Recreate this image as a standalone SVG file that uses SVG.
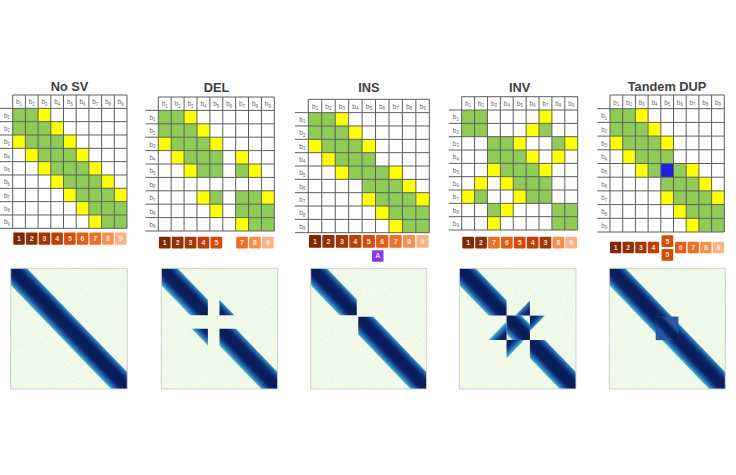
<svg xmlns="http://www.w3.org/2000/svg" xmlns:xlink="http://www.w3.org/1999/xlink" width="736" height="475" viewBox="0 0 736 475">
<defs>
<style>
.t{font-family:"Liberation Sans",Arial,sans-serif;font-weight:bold;font-size:12.8px;fill:#404040;text-anchor:middle}
.g{fill:#8fcb57}
.y{fill:#ffff00}
.bl{fill:#2020e0}
.gl{fill:none;stroke:#5e5e5e;stroke-width:1}
.lb{font-family:"Liberation Sans",Arial,sans-serif;font-size:5px;fill:#6a6a6a;text-anchor:middle}
.sub{font-size:3.4px}
.n{font-family:"Liberation Sans",Arial,sans-serif;font-weight:bold;font-size:7px;fill:#ffffff;fill-opacity:.85;text-anchor:middle}
.c1{fill:#7f2704}.c2{fill:#8f2f05}.c3{fill:#a33604}.c4{fill:#bd3f05}.c5{fill:#d44b0a}
.c6{fill:#e35d12}.c7{fill:#ef7024}.c8{fill:#f78f4e}.c9{fill:#fbb285}
.ca{fill:#8338ec}
.hbg{fill:#e0f3d6}
.hbd{fill:none;stroke:#cfcfcf;stroke-width:1}
</style>
<linearGradient id="bandG" gradientUnits="userSpaceOnUse" x1="43" y1="57" x2="57" y2="43">
<stop offset="0" stop-color="#5fbfc2"/>
<stop offset="0.08" stop-color="#2c8abf"/>
<stop offset="0.2" stop-color="#1d4b9b"/>
<stop offset="0.32" stop-color="#0b2366"/>
<stop offset="0.5" stop-color="#081d58"/>
<stop offset="0.72" stop-color="#0a2162"/>
<stop offset="0.86" stop-color="#1b4997"/>
<stop offset="0.95" stop-color="#2a7ab5"/>
<stop offset="1" stop-color="#4aaec6"/>
</linearGradient>
<linearGradient id="coreG" gradientUnits="userSpaceOnUse" x1="45" y1="55" x2="55" y2="45">
<stop offset="0" stop-color="#2b58a6" stop-opacity="0"/>
<stop offset="0.3" stop-color="#0c2466"/>
<stop offset="0.5" stop-color="#081d58"/>
<stop offset="0.7" stop-color="#0c2466"/>
<stop offset="1" stop-color="#2b58a6" stop-opacity="0"/>
</linearGradient>
<polygon id="bandP" points="-50,-50 -36,-50 150,136 150,150 136,150 -50,-36" fill="url(#bandG)"/>
<filter id="nz" x="0" y="0" width="1" height="1">
<feTurbulence type="fractalNoise" baseFrequency="0.9" numOctaves="2" seed="4" result="t"/>
<feColorMatrix in="t" type="matrix" values="0.3 0 0 0 0.72  0.12 0 0 0 0.89  0 0.5 0 0 0.56  0 0 0 0 1"/>
</filter>
<clipPath id="sq"><rect x="0" y="0" width="100" height="100"/></clipPath>
<clipPath id="dupS"><rect x="40" y="40" width="19.6" height="19.5"/></clipPath>
<clipPath id="delD"><rect x="0" y="0" width="40" height="39"/><rect x="50" y="50" width="50" height="50"/></clipPath>
<clipPath id="delUR"><rect x="50" y="0" width="50" height="39"/></clipPath>
<clipPath id="delLL"><rect x="0" y="50" width="40" height="50"/></clipPath>
<clipPath id="insD"><rect x="0" y="0" width="39.7" height="38.8"/><rect x="41" y="40.2" width="59" height="59.8"/></clipPath>
<clipPath id="invD"><rect x="0" y="0" width="40.5" height="39.2"/><rect x="40.5" y="39.2" width="20" height="20.2"/><rect x="60.5" y="59.4" width="39.5" height="40.6"/></clipPath>
<clipPath id="invX"><rect x="40.5" y="0" width="20" height="39.2"/><rect x="40.5" y="59.4" width="20" height="40.6"/></clipPath>
<clipPath id="invY"><rect x="0" y="39.2" width="40.5" height="20.2"/><rect x="60.5" y="39.2" width="39.5" height="20.2"/></clipPath>
<path id="grid" class="gl" vector-effect="non-scaling-stroke" d="M10 0H100M0 10H100M0 20H100M0 30H100M0 40H100M0 50H100M0 60H100M0 70H100M0 80H100M0 90H100M0 100H100M10 0V100M20 0V100M30 0V100M40 0V100M50 0V100M60 0V100M70 0V100M80 0V100M90 0V100M100 0V100"/>
<g id="lbls" class="lb">
<text x="15" y="7">b<tspan class="sub" dy="1">1</tspan></text>
<text x="25" y="7">b<tspan class="sub" dy="1">2</tspan></text>
<text x="35" y="7">b<tspan class="sub" dy="1">3</tspan></text>
<text x="45" y="7">b<tspan class="sub" dy="1">4</tspan></text>
<text x="55" y="7">b<tspan class="sub" dy="1">5</tspan></text>
<text x="65" y="7">b<tspan class="sub" dy="1">6</tspan></text>
<text x="75" y="7">b<tspan class="sub" dy="1">7</tspan></text>
<text x="85" y="7">b<tspan class="sub" dy="1">8</tspan></text>
<text x="95" y="7">b<tspan class="sub" dy="1">9</tspan></text>
<text x="5.5" y="17">b<tspan class="sub" dy="1">1</tspan></text>
<text x="5.5" y="27">b<tspan class="sub" dy="1">2</tspan></text>
<text x="5.5" y="37">b<tspan class="sub" dy="1">3</tspan></text>
<text x="5.5" y="47">b<tspan class="sub" dy="1">4</tspan></text>
<text x="5.5" y="57">b<tspan class="sub" dy="1">5</tspan></text>
<text x="5.5" y="67">b<tspan class="sub" dy="1">6</tspan></text>
<text x="5.5" y="77">b<tspan class="sub" dy="1">7</tspan></text>
<text x="5.5" y="87">b<tspan class="sub" dy="1">8</tspan></text>
<text x="5.5" y="97">b<tspan class="sub" dy="1">9</tspan></text>
</g>
<g id="top3">
<rect class="g" x="10" y="10" width="20" height="10"/><rect class="y" x="30" y="10" width="10" height="10"/>
<rect class="g" x="10" y="20" width="30" height="10"/><rect class="y" x="40" y="20" width="10" height="10"/>
<rect class="y" x="10" y="30" width="10" height="10"/><rect class="g" x="20" y="30" width="30" height="10"/><rect class="y" x="50" y="30" width="10" height="10"/>
</g>
</defs>

<rect width="736" height="475" fill="#ffffff"/>

<!-- Panel 1: No SV -->
<g id="nosv">
<text class="t" x="69.5" y="90.5">No SV</text>
<g transform="translate(0,95) scale(1.27,1.333)">
<use href="#top3"/>
<rect class="y" x="20" y="40" width="10" height="10"/><rect class="g" x="30" y="40" width="30" height="10"/><rect class="y" x="60" y="40" width="10" height="10"/>
<rect class="y" x="30" y="50" width="10" height="10"/><rect class="g" x="40" y="50" width="30" height="10"/><rect class="y" x="70" y="50" width="10" height="10"/>
<rect class="y" x="40" y="60" width="10" height="10"/><rect class="g" x="50" y="60" width="30" height="10"/><rect class="y" x="80" y="60" width="10" height="10"/>
<rect class="y" x="50" y="70" width="10" height="10"/><rect class="g" x="60" y="70" width="30" height="10"/><rect class="y" x="90" y="70" width="10" height="10"/>
<rect class="y" x="60" y="80" width="10" height="10"/><rect class="g" x="70" y="80" width="30" height="10"/>
<rect class="y" x="70" y="90" width="10" height="10"/><rect class="g" x="80" y="90" width="20" height="10"/>
<use href="#grid"/>
<use href="#lbls"/>
</g>
<rect class="c1" x="13.3" y="232.5" width="11.5" height="12.3" rx="1"/><text class="n" x="19.05" y="241.2">1</text>
<rect class="c2" x="26" y="232.5" width="11.5" height="12.3" rx="1"/><text class="n" x="31.75" y="241.2">2</text>
<rect class="c3" x="38.7" y="232.5" width="11.5" height="12.3" rx="1"/><text class="n" x="44.45" y="241.2">3</text>
<rect class="c4" x="51.4" y="232.5" width="11.5" height="12.3" rx="1"/><text class="n" x="57.15" y="241.2">4</text>
<rect class="c5" x="64.1" y="232.5" width="11.5" height="12.3" rx="1"/><text class="n" x="69.85" y="241.2">5</text>
<rect class="c6" x="76.8" y="232.5" width="11.5" height="12.3" rx="1"/><text class="n" x="82.55" y="241.2">6</text>
<rect class="c7" x="89.5" y="232.5" width="11.5" height="12.3" rx="1"/><text class="n" x="95.25" y="241.2">7</text>
<rect class="c8" x="102.2" y="232.5" width="11.5" height="12.3" rx="1"/><text class="n" x="107.95" y="241.2">8</text>
<rect class="c9" x="114.9" y="232.5" width="11.5" height="12.3" rx="1"/><text class="n" x="120.65" y="241.2">9</text>
</g>

<!-- Panel 2: DEL -->
<g id="del">
<text class="t" x="216.5" y="91.5">DEL</text>
<g transform="translate(145.4,97) scale(1.289,1.34)">
<use href="#top3"/>
<rect class="y" x="20" y="40" width="10" height="10"/><rect class="g" x="30" y="40" width="30" height="10"/><rect class="y" x="70" y="40" width="10" height="10"/>
<rect class="y" x="30" y="50" width="10" height="10"/><rect class="g" x="40" y="50" width="20" height="10"/><rect class="g" x="70" y="50" width="10" height="10"/><rect class="y" x="80" y="50" width="10" height="10"/>
<rect class="y" x="40" y="70" width="10" height="10"/><rect class="g" x="50" y="70" width="10" height="10"/><rect class="g" x="70" y="70" width="20" height="10"/><rect class="y" x="90" y="70" width="10" height="10"/>
<rect class="y" x="50" y="80" width="10" height="10"/><rect class="g" x="70" y="80" width="30" height="10"/>
<rect class="y" x="70" y="90" width="10" height="10"/><rect class="g" x="80" y="90" width="20" height="10"/>
<use href="#grid"/>
<use href="#lbls"/>
</g>
<rect class="c1" x="158.9" y="236.7" width="11.7" height="11.7" rx="1"/><text class="n" x="164.75" y="245.05">1</text>
<rect class="c2" x="171.8" y="236.7" width="11.7" height="11.7" rx="1"/><text class="n" x="177.65" y="245.05">2</text>
<rect class="c3" x="184.7" y="236.7" width="11.7" height="11.7" rx="1"/><text class="n" x="190.55" y="245.05">3</text>
<rect class="c4" x="197.6" y="236.7" width="11.7" height="11.7" rx="1"/><text class="n" x="203.45" y="245.05">4</text>
<rect class="c5" x="210.5" y="236.7" width="11.7" height="11.7" rx="1"/><text class="n" x="216.35" y="245.05">5</text>
<rect class="c7" x="236.2" y="236.7" width="11.7" height="11.7" rx="1"/><text class="n" x="242.05" y="245.05">7</text>
<rect class="c8" x="249.1" y="236.7" width="11.7" height="11.7" rx="1"/><text class="n" x="254.95" y="245.05">8</text>
<rect class="c9" x="262" y="236.7" width="11.7" height="11.7" rx="1"/><text class="n" x="267.85" y="245.05">9</text>
</g>

<!-- Panel 3: INS -->
<g id="ins">
<text class="t" x="368.8" y="92">INS</text>
<g transform="translate(294.9,99.3) scale(1.344,1.334)">
<use href="#top3"/>
<rect class="y" x="20" y="40" width="10" height="10"/><rect class="g" x="30" y="40" width="30" height="10"/>
<rect class="y" x="30" y="50" width="10" height="10"/><rect class="g" x="40" y="50" width="30" height="10"/><rect class="y" x="70" y="50" width="10" height="10"/>
<rect class="g" x="50" y="60" width="30" height="10"/><rect class="y" x="80" y="60" width="10" height="10"/>
<rect class="y" x="50" y="70" width="10" height="10"/><rect class="g" x="60" y="70" width="30" height="10"/><rect class="y" x="90" y="70" width="10" height="10"/>
<rect class="y" x="60" y="80" width="10" height="10"/><rect class="g" x="70" y="80" width="30" height="10"/>
<rect class="y" x="70" y="90" width="10" height="10"/><rect class="g" x="80" y="90" width="20" height="10"/>
<use href="#grid"/>
<use href="#lbls"/>
</g>
<rect class="c1" x="308.9" y="235" width="12.2" height="12.7" rx="1"/><text class="n" x="315" y="243.85">1</text>
<rect class="c2" x="322.3" y="235" width="12.2" height="12.7" rx="1"/><text class="n" x="328.4" y="243.85">2</text>
<rect class="c3" x="335.8" y="235" width="12.2" height="12.7" rx="1"/><text class="n" x="341.9" y="243.85">3</text>
<rect class="c4" x="349.2" y="235" width="12.2" height="12.7" rx="1"/><text class="n" x="355.3" y="243.85">4</text>
<rect class="c5" x="362.7" y="235" width="12.2" height="12.7" rx="1"/><text class="n" x="368.8" y="243.85">5</text>
<rect class="c6" x="376.1" y="235" width="12.2" height="12.7" rx="1"/><text class="n" x="382.2" y="243.85">6</text>
<rect class="c7" x="389.5" y="235" width="12.2" height="12.7" rx="1"/><text class="n" x="395.6" y="243.85">7</text>
<rect class="c8" x="403" y="235" width="12.2" height="12.7" rx="1"/><text class="n" x="409.1" y="243.85">8</text>
<rect class="c9" x="416.4" y="235" width="12.2" height="12.7" rx="1"/><text class="n" x="422.5" y="243.85">9</text>
<rect class="ca" x="372" y="250.2" width="11.5" height="11.5" rx="1"/><text class="n" x="377.75" y="258.45">A</text>
</g>

<!-- Panel 4: INV -->
<g id="inv">
<text class="t" x="519.7" y="91.5">INV</text>
<g transform="translate(448.8,96.7) scale(1.289,1.333)">
<rect class="g" x="10" y="10" width="20" height="10"/><rect class="y" x="70" y="10" width="10" height="10"/>
<rect class="g" x="10" y="20" width="20" height="10"/><rect class="y" x="60" y="20" width="10" height="10"/><rect class="g" x="70" y="20" width="10" height="10"/>
<rect class="g" x="30" y="30" width="20" height="10"/><rect class="y" x="50" y="30" width="10" height="10"/><rect class="g" x="80" y="30" width="10" height="10"/><rect class="y" x="90" y="30" width="10" height="10"/>
<rect class="g" x="30" y="40" width="30" height="10"/><rect class="y" x="60" y="40" width="10" height="10"/><rect class="y" x="80" y="40" width="10" height="10"/>
<rect class="y" x="30" y="50" width="10" height="10"/><rect class="g" x="40" y="50" width="30" height="10"/><rect class="y" x="70" y="50" width="10" height="10"/>
<rect class="y" x="20" y="60" width="10" height="10"/><rect class="y" x="40" y="60" width="10" height="10"/><rect class="g" x="50" y="60" width="30" height="10"/>
<rect class="y" x="10" y="70" width="10" height="10"/><rect class="g" x="20" y="70" width="10" height="10"/><rect class="y" x="50" y="70" width="10" height="10"/><rect class="g" x="60" y="70" width="20" height="10"/>
<rect class="g" x="30" y="80" width="10" height="10"/><rect class="y" x="40" y="80" width="10" height="10"/><rect class="g" x="80" y="80" width="20" height="10"/>
<rect class="y" x="30" y="90" width="10" height="10"/><rect class="g" x="80" y="90" width="20" height="10"/>
<use href="#grid"/>
<use href="#lbls"/>
</g>
<rect class="c1" x="462.3" y="236.7" width="11.7" height="11.7" rx="1"/><text class="n" x="468.15" y="245.05">1</text>
<rect class="c2" x="475.2" y="236.7" width="11.7" height="11.7" rx="1"/><text class="n" x="481.05" y="245.05">2</text>
<rect class="c7" x="488.1" y="236.7" width="11.7" height="11.7" rx="1"/><text class="n" x="493.95" y="245.05">7</text>
<rect class="c6" x="501" y="236.7" width="11.7" height="11.7" rx="1"/><text class="n" x="506.85" y="245.05">6</text>
<rect class="c5" x="513.9" y="236.7" width="11.7" height="11.7" rx="1"/><text class="n" x="519.75" y="245.05">5</text>
<rect class="c4" x="526.8" y="236.7" width="11.7" height="11.7" rx="1"/><text class="n" x="532.65" y="245.05">4</text>
<rect class="c3" x="539.6" y="236.7" width="11.7" height="11.7" rx="1"/><text class="n" x="545.45" y="245.05">3</text>
<rect class="c8" x="552.5" y="236.7" width="11.7" height="11.7" rx="1"/><text class="n" x="558.35" y="245.05">8</text>
<rect class="c9" x="565.4" y="236.7" width="11.7" height="11.7" rx="1"/><text class="n" x="571.25" y="245.05">9</text>
</g>

<!-- Panel 5: Tandem DUP -->
<g id="dup">
<text class="t" x="667" y="90.5">Tandem DUP</text>
<g transform="translate(597.3,95) scale(1.27,1.37)">
<use href="#top3"/>
<rect class="y" x="20" y="40" width="10" height="10"/><rect class="g" x="30" y="40" width="30" height="10"/>
<rect class="y" x="30" y="50" width="10" height="10"/><rect class="g" x="40" y="50" width="10" height="10"/><rect class="bl" x="50" y="50" width="10" height="10"/><rect class="g" x="60" y="50" width="10" height="10"/><rect class="y" x="70" y="50" width="10" height="10"/>
<rect class="g" x="50" y="60" width="30" height="10"/><rect class="y" x="80" y="60" width="10" height="10"/>
<rect class="y" x="50" y="70" width="10" height="10"/><rect class="g" x="60" y="70" width="30" height="10"/><rect class="y" x="90" y="70" width="10" height="10"/>
<rect class="y" x="60" y="80" width="10" height="10"/><rect class="g" x="70" y="80" width="30" height="10"/>
<rect class="y" x="70" y="90" width="10" height="10"/><rect class="g" x="80" y="90" width="20" height="10"/>
<use href="#grid"/>
<use href="#lbls"/>
</g>
<rect class="c1" x="610" y="241.7" width="11.3" height="11.6" rx="1"/><text class="n" x="615.65" y="250">1</text>
<rect class="c2" x="622.6" y="241.7" width="11.3" height="11.6" rx="1"/><text class="n" x="628.25" y="250">2</text>
<rect class="c3" x="635.2" y="241.7" width="11.3" height="11.6" rx="1"/><text class="n" x="640.85" y="250">3</text>
<rect class="c4" x="647.8" y="241.7" width="11.3" height="11.6" rx="1"/><text class="n" x="653.45" y="250">4</text>
<rect class="c5" x="661.5" y="235.3" width="11.7" height="11.7" rx="1"/><text class="n" x="667.35" y="243.65">5</text>
<rect class="c5" x="661.5" y="249" width="11.7" height="11.7" rx="1"/><text class="n" x="667.35" y="257.35">5</text>
<rect class="c6" x="675" y="241.7" width="11.3" height="11.6" rx="1"/><text class="n" x="680.65" y="250">6</text>
<rect class="c7" x="687.6" y="241.7" width="11.3" height="11.6" rx="1"/><text class="n" x="693.25" y="250">7</text>
<rect class="c8" x="700.2" y="241.7" width="11.3" height="11.6" rx="1"/><text class="n" x="705.85" y="250">8</text>
<rect class="c9" x="712.8" y="241.7" width="11.3" height="11.6" rx="1"/><text class="n" x="718.45" y="250">9</text>
</g>

<!-- Heatmaps -->
<g id="hm-nosv" transform="translate(10.7,268.3) scale(1.166,1.207)">
<rect class="hbg" width="100" height="100" filter="url(#nz)"/>
<g clip-path="url(#sq)"><use href="#bandP"/></g>
<rect class="hbd" width="100" height="100" vector-effect="non-scaling-stroke"/>
</g>
<g id="hm-del" transform="translate(161.3,268.3) scale(1.164,1.207)">
<rect class="hbg" width="100" height="100" filter="url(#nz)"/>
<g clip-path="url(#delD)"><use href="#bandP"/></g>
<g clip-path="url(#delUR)"><use href="#bandP" transform="translate(10,0)"/></g>
<g clip-path="url(#delLL)"><use href="#bandP" transform="translate(0,10)"/></g>
<rect class="hbd" width="100" height="100" vector-effect="non-scaling-stroke"/>
</g>
<g id="hm-ins" transform="translate(310.7,268.3) scale(1.16,1.207)">
<rect class="hbg" width="100" height="100" filter="url(#nz)"/>
<g clip-path="url(#insD)"><use href="#bandP"/></g>
<rect class="hbd" width="100" height="100" vector-effect="non-scaling-stroke"/>
</g>
<g id="hm-inv" transform="translate(459.3,268.3) scale(1.167,1.207)">
<rect class="hbg" width="100" height="100" filter="url(#nz)"/>
<g clip-path="url(#invD)"><use href="#bandP"/></g>
<g clip-path="url(#invX)"><use href="#bandP" transform="translate(101,0) scale(-1,1)"/></g>
<g clip-path="url(#invY)"><use href="#bandP" transform="translate(0,98.6) scale(1,-1)"/></g>
<rect class="hbd" width="100" height="100" vector-effect="non-scaling-stroke"/>
</g>
<g id="hm-dup" transform="translate(609.3,268.3) scale(1.16,1.207)">
<rect class="hbg" width="100" height="100" filter="url(#nz)"/>
<g clip-path="url(#sq)"><use href="#bandP"/></g>
<rect x="40" y="40" width="19.6" height="19.5" fill="#2b58a6"/>
<g clip-path="url(#dupS)"><polygon points="30,30 40,30 70,60 70,70 60,70 30,40" fill="url(#coreG)"/></g>
<rect class="hbd" width="100" height="100" vector-effect="non-scaling-stroke"/>
</g>
<g id="connectors"/>
</svg>
